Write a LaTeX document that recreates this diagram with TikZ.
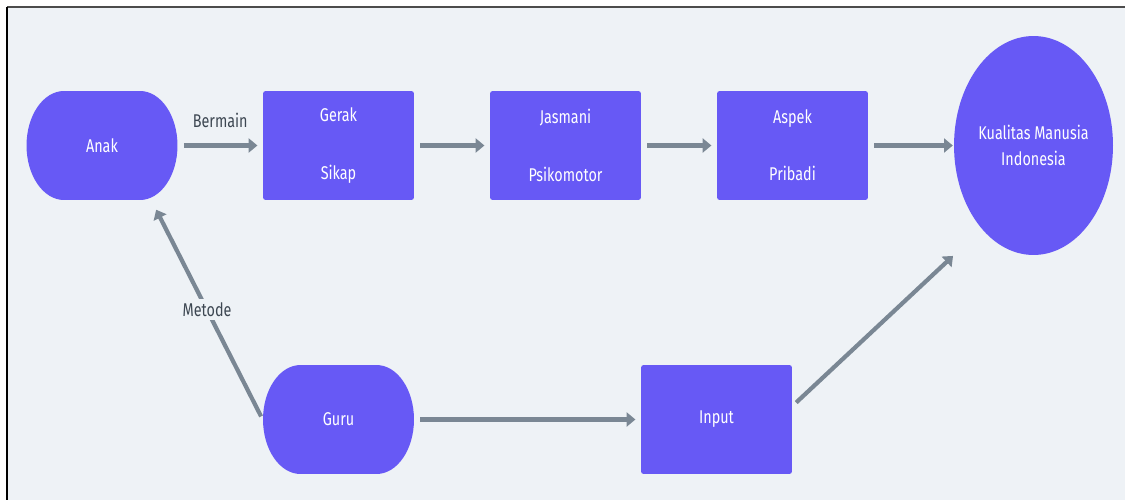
\documentclass[tikz,border=0pt]{standalone}
\usepackage{fontspec}
\setmainfont[FakeStretch=0.78]{Fira Sans}
\usetikzlibrary{arrows.meta}
\usetikzlibrary{shapes.geometric}
\definecolor{violet1}{RGB}{103, 89, 245}
\definecolor{gray1}{RGB}{122, 135, 148}
\definecolor{bg1}{RGB}{238, 242, 246}
\definecolor{text1}{RGB}{61, 71, 82}
\tikzset{
  box/.style={rectangle, rounded corners=1.5pt, fill=violet1, text=white, align=center,
    minimum width=3.02cm, minimum height=2.18cm, inner sep=0pt},
  pill/.style={box, rounded corners=0pt, fill=bg1, path picture={
    \fill[violet1] ([xshift=-0.76cm]path picture bounding box.north)
      -- ([xshift=0.76cm]path picture bounding box.north)
      arc[start angle=90, end angle=-90, x radius=0.75cm, y radius=1.09cm]
      -- ([xshift=-0.76cm]path picture bounding box.south)
      arc[start angle=270, end angle=90, x radius=0.75cm, y radius=1.09cm] -- cycle;}},
  flow/.style={draw=gray1, line width=2.4pt, -{Triangle[length=5pt,width=8pt]},
    shorten <=3.4pt, shorten >=3pt},
  lbl/.style={text=text1, fill=bg1, inner sep=2pt}
}

\begin{document}
\begin{tikzpicture}[x=0.02cm, y=-0.02cm, font=\fontsize{10.5}{12.6}\selectfont]
  \useasboundingbox (0,0) rectangle (1125,500);
  \fill[white] (0,0) rectangle (1125,500);
  \fill[bg1] (7,7) rectangle (1125,500);
  \draw[line width=0.9pt, gray!60!black] (7,7) -- (1125,7);
  \draw[line width=1.1pt, black] (7,7) -- (7,500);

  \node[pill] (anak) at (102,145.5) {Anak};
  \node[box] (gerak) at (338.5,145.5) {Gerak\\[20pt]Sikap};
  \node[box] (jasmani) at (565.5,145.5) {Jasmani\\[20pt]Psikomotor};
  \node[box] (aspek) at (792.5,145.5) {Aspek\\[20pt]Pribadi};
  \node[ellipse, fill=violet1, text=white, align=center, inner sep=0pt,
    minimum width=3.18cm, minimum height=4.38cm] (kmi) at (1033.5,145.5)
    {Kualitas Manusia\\[2pt]Indonesia};

  \node[pill] (guru) at (338.5,419.5) {Guru};
  \node[box] (input) at (716.5,419.5) {Input};

  \foreach \from/\to in {gerak/jasmani, jasmani/aspek, guru/input}
    \draw[flow] (\from) -- (\to);
  \draw[flow] (anak) -- node[lbl, above=7pt, fill=none] {Bermain} (gerak);
  \draw[flow, shorten >=0.5pt] (aspek) -- (kmi);
  \draw[flow, shorten <=2pt, shorten >=6pt] (guru.west) -- node[lbl] {Metode} (anak.-48);
  \draw[flow, shorten <=3pt, shorten >=0.5pt] (input.10) -- (kmi.south -| kmi.west);
\end{tikzpicture}
\end{document}
